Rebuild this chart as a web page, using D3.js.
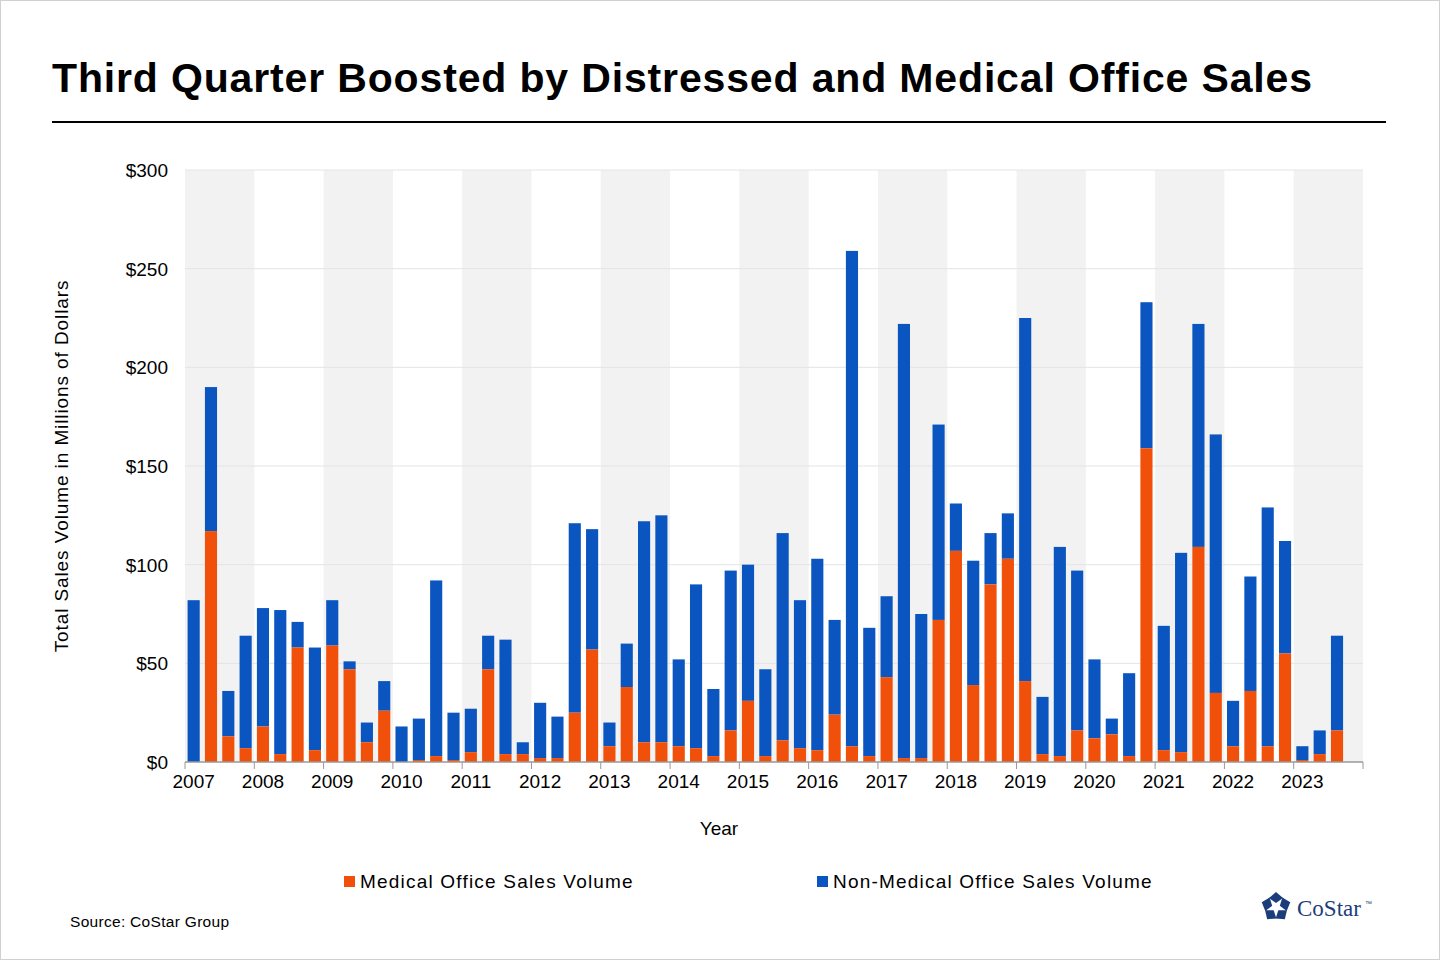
<!DOCTYPE html>
<html><head><meta charset="utf-8">
<script src="https://cdn.jsdelivr.net/npm/d3@7"></script>
<style>body{margin:0;background:#fff}svg{font-family:Arial,"Liberation Sans",sans-serif}</style>
</head><body>
<script>
const years = ["2007","2008","2009","2010","2011","2012","2013","2014","2015","2016","2017","2018","2019","2020","2021","2022","2023"];
const totalVolume = [82,190,36,64, 78,77,71,58, 82,51,20,41, 18,22,92,25, 27,64,62,10, 30,23,121,118, 20,60,122,125, 52,90,37,97, 100,47,116,82, 103,72,259,68, 84,222,75,171, 131,102,116,126, 225,33,109,97, 52,22,45,233, 69,106,222,166, 31,94,129,112, 8,16,64];
const medicalVolume = [0,117,13,7, 18,4,58,6, 59,47,10,26, 0,1,3,1, 5,47,4,4, 2,2,25,57, 8,38,10,10, 8,7,3,16, 31,3,11,7, 6,24,8,3, 43,2,2,72, 107,39,90,103, 41,4,3,16, 12,14,3,159, 6,5,109,35, 8,36,8,55, 1,4,16];
const yTicks = [0,50,100,150,200,250,300];
const ORANGE="#f0500a", BLUE="#0a55bf";

const svg=d3.select("body").append("svg").attr("width",1440).attr("height",960);
svg.append("rect").attr("x",0.5).attr("y",0.5).attr("width",1439).attr("height",959).attr("fill","#fff").attr("stroke","#d0d0d0");
svg.append("text").attr("x",52).attr("y",92).attr("font-size",41).attr("font-weight","bold").attr("letter-spacing",0.85).attr("fill","#000").text("Third Quarter Boosted by Distressed and Medical Office Sales");
svg.append("line").attr("x1",52).attr("x2",1386).attr("y1",122).attr("y2",122).attr("stroke","#000").attr("stroke-width",2);

const L=185,R=1363,T=170,B=762;
const nQ=years.length*4;
const x=d3.scaleBand().domain(d3.range(nQ)).range([L,R]).paddingInner(0.3).paddingOuter(0.15);
const xy=d3.scaleBand().domain(years).range([L,R]);
const y=d3.scaleLinear().domain([0,300]).range([B,T]);

svg.selectAll(".band").data(years.filter((d,i)=>i%2==0)).join("rect")
 .attr("x",d=>xy(d)).attr("width",xy.bandwidth()).attr("y",T).attr("height",B-T).attr("fill","#f2f2f2");
svg.selectAll(".grid").data(yTicks.slice(1)).join("line")
 .attr("x1",L).attr("x2",R).attr("y1",d=>y(d)).attr("y2",d=>y(d)).attr("stroke","#e4e4e4");
svg.selectAll(".yl").data(yTicks).join("text").attr("x",168).attr("y",d=>y(d)+7).attr("text-anchor","end")
 .attr("font-size",19).attr("fill","#000").text(d=>"$"+d);

const data=totalVolume.map((t,i)=>({i,t,m:medicalVolume[i]}));
svg.selectAll(".nm").data(data).join("rect").attr("x",d=>x(d.i)).attr("width",x.bandwidth())
 .attr("y",d=>y(d.t)).attr("height",d=>y(d.m)-y(d.t)).attr("fill",BLUE);
svg.selectAll(".md").data(data).join("rect").attr("x",d=>x(d.i)).attr("width",x.bandwidth())
 .attr("y",d=>y(d.m)).attr("height",d=>B-y(d.m)).attr("fill",ORANGE);

svg.append("line").attr("x1",L).attr("x2",R).attr("y1",B).attr("y2",B).attr("stroke","#999").attr("stroke-width",1.5);
svg.selectAll(".tk").data(years.concat(["end"])).join("line")
 .attr("x1",(d,i)=>L+i*xy.bandwidth()).attr("x2",(d,i)=>L+i*xy.bandwidth()).attr("y1",B).attr("y2",B+7).attr("stroke","#999");
svg.selectAll(".xl").data(years).join("text").attr("x",d=>x(years.indexOf(d)*4)+x.bandwidth()/2).attr("y",B+26)
 .attr("text-anchor","middle").attr("font-size",19).text(d=>d);

svg.append("text").attr("x",719).attr("y",835).attr("text-anchor","middle").attr("font-size",19).text("Year");
svg.append("text").attr("transform","translate(68,466) rotate(-90)").attr("text-anchor","middle").attr("font-size",19).attr("letter-spacing",0.9).text("Total Sales Volume  in Millions of Dollars");

const leg=[["Medical Office Sales Volume",ORANGE,344],["Non-Medical Office Sales Volume",BLUE,817]];
leg.forEach(([t,c,lx])=>{
 svg.append("rect").attr("x",lx).attr("y",876).attr("width",11).attr("height",11).attr("fill",c);
 svg.append("text").attr("x",lx+16).attr("y",888).attr("font-size",19).attr("letter-spacing",1.2).text(t);
});
svg.append("text").attr("x",70).attr("y",927).attr("font-size",15.5).attr("letter-spacing",0.3).text("Source: CoStar Group");
const g=svg.append("g").attr("transform","translate(1276,907)");
d3.range(5).forEach(k=>{
 g.append("path").attr("d","M0,-15 L7,-9 L0,-4 L-7,-9Z").attr("fill","#1b3d7a").attr("transform",`rotate(${k*72})`);
});
svg.append("text").attr("x",1297).attr("y",916).attr("font-family","'Liberation Serif',serif").attr("font-size",23).attr("fill","#1b3d7a").text("CoStar");
svg.append("text").attr("x",1365).attr("y",906).attr("font-size",7).attr("fill","#1b3d7a").text("™");
</script>
</body></html>
